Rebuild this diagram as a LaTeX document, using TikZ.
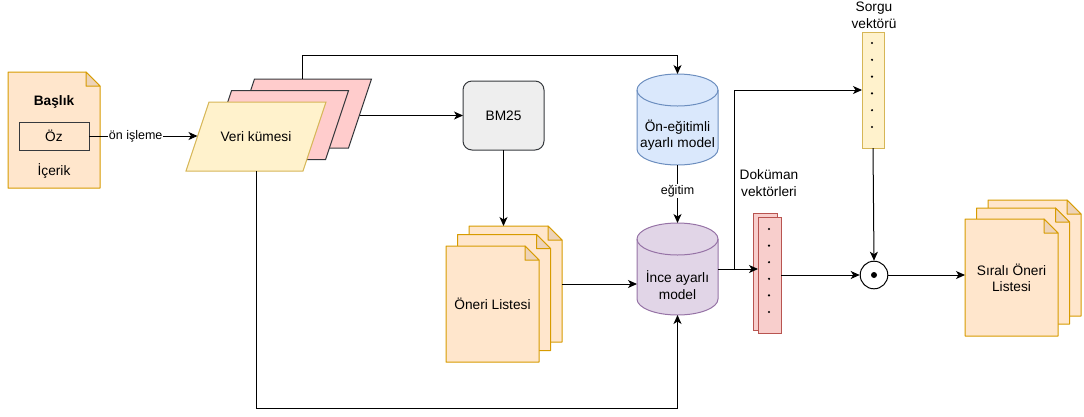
\documentclass[tikz,border=0pt]{standalone}
\usepackage{fontspec}
\setmainfont{Liberation Sans}
\usetikzlibrary{arrows.meta,calc,backgrounds}

\definecolor{noteFill}{HTML}{FFE6CC}
\definecolor{noteLine}{HTML}{D79B00}
\definecolor{noteFold}{HTML}{EDD3B8}
\definecolor{ylwFill}{HTML}{FFF2CC}
\definecolor{ylwLine}{HTML}{D6B656}
\definecolor{pinkFill}{HTML}{FFCCCC}
\definecolor{darkLine}{HTML}{36393D}
\definecolor{grayFill}{HTML}{EEEEEE}
\definecolor{blueFill}{HTML}{DAE8FC}
\definecolor{blueLine}{HTML}{6C8EBF}
\definecolor{purpFill}{HTML}{E1D5E7}
\definecolor{purpLine}{HTML}{9673A6}
\definecolor{redFill}{HTML}{F8CECC}
\definecolor{redLine}{HTML}{B85450}

% page with a folded top-right corner over the box of a node
\newcommand{\foldpage}[1]{%
  \filldraw[fill=noteFill,draw=noteLine,line width=1pt,line join=round]
    (#1.south west) -- (#1.north west) -- ([xshift=-14pt]#1.north east)
    -- ([yshift=-14pt]#1.north east) -- (#1.south east) -- cycle;
  \filldraw[fill=noteFold,draw=noteLine,line width=1pt,line join=round]
    ([xshift=-14pt]#1.north east) -- ([xshift=-14pt,yshift=-14pt]#1.north east)
    -- ([yshift=-14pt]#1.north east) -- cycle;}

% parallelogram leaning right inside the box of a node
\newcommand{\slantbox}[2]{%
  \filldraw[#2,line width=1pt]
    (#1.south west) -- ([xshift=23pt]#1.north west) -- (#1.north east)
    -- ([xshift=-23pt]#1.south east) -- cycle;}

% upright cylinder inside the box of a node
\newcommand{\drum}[3]{%
  \filldraw[fill=#2,draw=#3,line width=1pt]
    ([yshift=-16pt]#1.north west) -- ([yshift=16pt]#1.south west)
    arc[start angle=180,end angle=360,x radius=40.5pt,y radius=16pt]
    -- ([yshift=-16pt]#1.north east)
    arc[start angle=0,end angle=180,x radius=40.5pt,y radius=16pt] -- cycle;
  \draw[draw=#3,line width=1pt]
    ([yshift=-16pt]#1.north west)
    arc[start angle=180,end angle=360,x radius=40.5pt,y radius=16pt];}

\begin{document}
\begin{tikzpicture}[x=1pt,y=-1pt,
  every node/.style={font=\fontsize{13.7}{16.5}\selectfont},
  box/.style={inner sep=0pt,outer sep=0pt},
  lbl/.style={font=\fontsize{12.5}{15}\selectfont,fill=white,inner sep=1pt},
  arr/.style={line width=1pt,-{Stealth[length=9pt,width=8pt,inset=2.5pt]}},
  wire/.style={line width=1pt}]
\useasboundingbox (0,0) rectangle (1084,416);

% input document
\node[box,minimum width=92pt,minimum height=116pt] (note) at (54,130) {};
\node[font=\fontsize{13.7}{16.5}\selectfont\bfseries] (title) at (54,102) {Başlık};
\node[box,draw=darkLine,line width=1pt,minimum width=70pt,minimum height=28pt] (oz) at (54,136) {Öz};
\node (body) at (54,171) {İçerik};

% data set stack
\node[box,minimum width=140pt,minimum height=69pt] (veriB) at (301.5,113.5) {};
\node[box,minimum width=140pt,minimum height=69pt] (veriM) at (278.5,125.2) {};
\node[box,minimum width=140pt,minimum height=69pt] (veri) at (256,136.5) {Veri kümesi};

% BM25 block
\node[box,draw=darkLine,fill=grayFill,line width=1pt,rounded corners=9pt,
      minimum width=81pt,minimum height=69pt] (bm25) at (503.5,115.5) {BM25};

% candidate list stack
\node[box,minimum width=93pt,minimum height=116pt] (oneriA) at (515.5,284) {};
\node[box,minimum width=93pt,minimum height=116pt] (oneriB) at (504,292.5) {};
\node[box,minimum width=93pt,minimum height=116pt] (oneriC) at (492.5,304) {Öneri Listesi};

% models
\node[box,minimum width=81pt,minimum height=91pt] (pre) at (677.5,119.5) {};
\node[align=center] (preText) at ($(pre.center)+(0,15.5)$) {Ön-eğitimli\\ayarlı model};
\node[box,minimum width=81pt,minimum height=92pt] (ince) at (677.5,269) {};
\node[align=center] (inceText) at ($(ince.center)+(0,16)$) {İnce ayarlı\\model};

% document vectors
\node[box,minimum width=24pt,minimum height=117pt] (vecB) at (765,271.5) {};
\node[box,minimum width=23pt,minimum height=116pt] (vecF) at (769.5,275) {};
\node[align=center] (dokLbl) at (769,183) {Doküman\\vektörleri};

% query vector
\node[box,draw=ylwLine,fill=ylwFill,line width=1pt,minimum width=22pt,minimum height=116pt] (sorgu) at (873,90) {};
\node[align=center] (sorguLbl) at (874,15.5) {Sorgu\\vektörü};

% dot product
\node[circle,draw,fill=white,line width=1pt,minimum size=27.6pt,inner sep=0pt] (dot) at (874,275) {};
\fill (dot.center) circle (3pt);

% ranked list stack
\node[box,minimum width=93pt,minimum height=116pt] (siraliA) at (1034.5,258) {};
\node[box,minimum width=93pt,minimum height=116pt] (siraliB) at (1023,266) {};
\node[box,minimum width=93pt,minimum height=117pt] (siraliC) at (1011.5,277.5) {};
\node[align=center] (siraliText) at (1011.5,278) {Sıralı Öneri\\Listesi};

\begin{pgfonlayer}{background}
  \foldpage{note}
  \slantbox{veriB}{fill=pinkFill,draw=darkLine}
  \slantbox{veriM}{fill=pinkFill,draw=darkLine}
  \slantbox{veri}{fill=ylwFill,draw=ylwLine}
  \foldpage{oneriA}
  \foldpage{oneriB}
  \foldpage{oneriC}
  \drum{pre}{blueFill}{blueLine}
  \drum{ince}{purpFill}{purpLine}
  \filldraw[fill=redFill,draw=redLine,line width=1pt] (vecB.south west) rectangle (vecB.north east);
  \filldraw[fill=redFill,draw=redLine,line width=1pt] (vecF.south west) rectangle (vecF.north east);
  \foldpage{siraliA}
  \foldpage{siraliB}
  \foldpage{siraliC}
\end{pgfonlayer}

% vector entries
\foreach \k in {0,...,5} {
  \fill ($(sorgu.north)+(-1,11+16.8*\k)$) circle (1.2pt);
  \fill ($(vecF.north)+(-0.5,12+16.6*\k)$) circle (1.2pt);
}

% connectors
\coordinate (vleft) at ($(veri.west)+(11.5,0)$);
\coordinate (vtop) at ($(veriB.north)+(0.5,0)$);
\coordinate (vright) at (359.5,115.5);
\coordinate (br) at ($(ince.east)+(16.5,0)$);

\draw[arr] (oz.east) -- node[lbl,pos=0.43] {ön işleme} (oz.east -| vleft);
\draw[arr] (vtop) -- ++(0,-24) -| (pre.north);
\draw[arr] (vright) -- (bm25.west);
\draw[arr] (veri.south) -- ++(0,237) -| (ince.south);
\draw[arr] (bm25.south) -- (bm25.south |- oneriA.north);
\draw[arr] (oneriA.east) -- (oneriA.east -| ince.west);
\draw[arr] (pre.south) -- node[lbl,pos=0.45] {eğitim} (ince.north);
\draw[arr] (ince.east) -- (ince.east -| vecF.west);
\draw[arr] (br) |- (sorgu.west);
\draw[arr] (sorgu.south) -- (dot.north);
\draw[arr] (vecF.east) -- (dot.west);
\draw[arr] (dot.east) -- (dot.east -| siraliC.west);
\end{tikzpicture}
\end{document}
